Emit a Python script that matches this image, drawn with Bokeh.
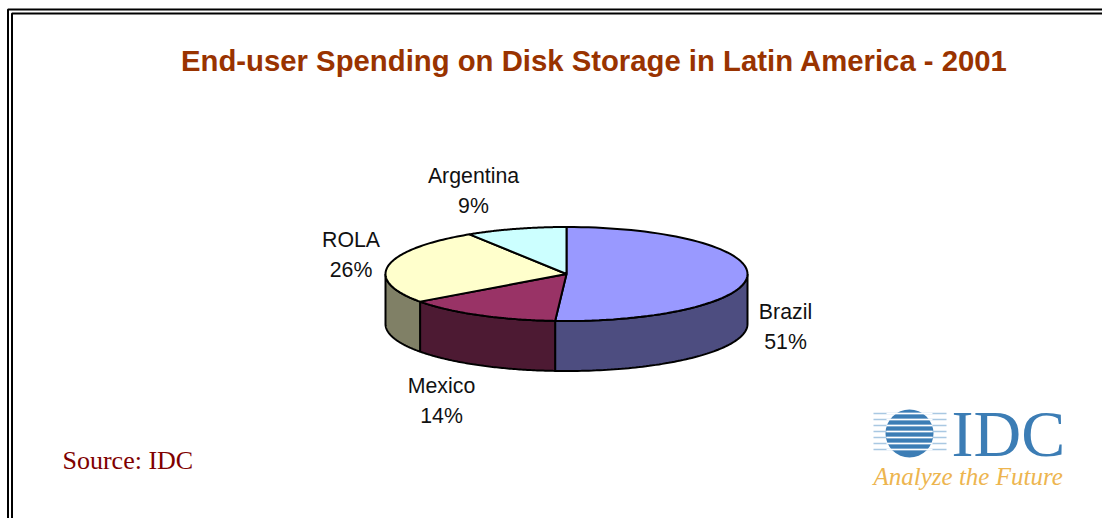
import numpy as np
from bokeh.core.properties import value
from bokeh.embed import file_html
from bokeh.models import Range1d
from bokeh.plotting import figure
from bokeh.resources import INLINE

TITLE = "End-user Spending on Disk Storage in Latin America - 2001"
SOURCE = "Source: IDC"

categories = ["Brazil", "Mexico", "ROLA", "Argentina"]
shares = [51, 14, 26, 9]
top_colors = ["#9999FF", "#993366", "#FFFFCC", "#CCFFFF"]
side_colors = ["#4D4D80", "#4D1A33", "#808066", "#66807F"]
label_anchor = [(785, 311), (441, 385), (350.5, 239), (473, 175)]

# Pie drawn as a tilted disc: ellipse centre, radii and rim depth in page pixels
CX, CY, RX, RY, DEPTH = 566, 273.5, 181, 47, 50

p = figure(width=1102, height=518, output_backend="svg", toolbar_location=None,
           x_range=Range1d(0, 1102), y_range=Range1d(518, 0),
           min_border=0, outline_line_color=None)
p.axis.visible = False
p.grid.visible = False
p.background_fill_color = "white"
p.border_fill_color = "white"


def rim(a0, a1, n=80):
    """Points on the top ellipse between two clockwise angles measured from 12 o'clock."""
    t = np.radians(np.linspace(a0, a1, n))
    return CX + RX * np.sin(t), CY - RY * np.cos(t)


# Double frame that runs off the right and bottom edges
for off in (7.5, 11.5):
    shift = off + 1.5
    p.line([off, off, 1110], [530, shift, shift], line_color="black", line_width=2)

edges = np.concatenate([[0], np.cumsum(shares)]) * 3.6

# Visible outer wall spans 90 to 270 degrees
for i, _ in enumerate(categories):
    a0, a1 = max(edges[i], 90), min(edges[i + 1], 270)
    if a1 <= a0:
        continue
    x, y = rim(a0, a1)
    xs = np.concatenate([x, x[::-1]])
    ys = np.concatenate([y, (y + DEPTH)[::-1]])
    p.patch(xs, ys, fill_color=side_colors[i], line_color="black", line_width=2)

# Top faces
for i, _ in enumerate(categories):
    x, y = rim(edges[i], edges[i + 1])
    p.patch(np.concatenate([[CX], x]), np.concatenate([[CY], y]),
            fill_color=top_colors[i], line_color="black", line_width=2)


def label(x, y, s, font, size, color, style="normal", align="center"):
    p.text([x], [y], text=[s], text_font=value(font), text_font_size=f"{size}px",
           text_color=color, text_font_style=style, text_align=align,
           text_baseline="middle")


label(594, 60, TITLE, "Liberation Sans", 29.3, "#993300", "bold")
label(62, 460, SOURCE, "Liberation Serif", 26, "#800000", align="left")

for name, share, (ax, ay) in zip(categories, shares, label_anchor):
    label(ax, ay, name, "Liberation Sans", 21.3, "#111111")
    label(ax, ay + 30, f"{share}%", "Liberation Sans", 21.3, "#111111")

# IDC logo: striped globe, wordmark and tagline
BLUE = "#3C7DB5"
p.scatter([909], [433], size=48, marker="circle", fill_color=BLUE, line_color=None)
for sy in (413, 419, 425, 431, 437, 443, 449):
    p.line([873, 946], [sy, sy], line_color="#A9C8E2", line_width=1.5)
    p.line([886, 932], [sy, sy], line_color="white", line_width=1.5)
label(951, 433, "IDC", "Liberation Serif", 66, BLUE, align="left")
label(873, 476, "Analyze the Future", "Liberation Serif", 25, "#EDB54F", "italic", align="left")

open("out.html", "w").write(file_html(p, INLINE))
